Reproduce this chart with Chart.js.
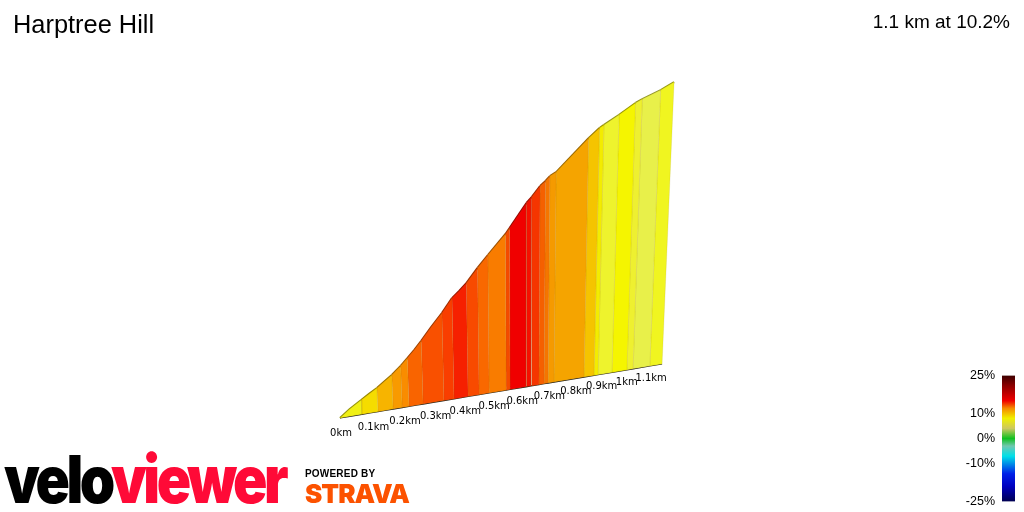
<!DOCTYPE html>
<html>
<head>
<meta charset="utf-8">
<title>Harptree Hill</title>
<script src="https://cdn.jsdelivr.net/npm/chart.js@4"></script>
<style>
  html, body { margin: 0; padding: 0; background: #fff; overflow: hidden; }
  #wrap { position: relative; width: 1024px; height: 512px; font-family: "Liberation Sans", Arial, sans-serif; color: #000; }
  #wrap div, #wrap canvas { position: absolute; }
  #profile { left: 0; top: 0; }
  #scale { left: 950px; top: 361px; }
  .name { left: 13px; top: 9px; font-size: 25.4px; line-height: 30px; }
  .stats { right: 14px; top: 9px; font-size: 19px; line-height: 26px; }
  .logo { left: 4px; top: 439px; font-family: Inter, sans-serif; font-weight: 900; font-size: 66px; line-height: 80px; letter-spacing: -4px; white-space: nowrap; transform: scaleX(0.86); transform-origin: left center; }
  .logo span { color: #ff0a37; }
  .powered { left: 305px; top: 467px; font-size: 10px; line-height: 13px; font-weight: bold; letter-spacing: 0.2px; white-space: nowrap; }
  .strava { left: 305px; top: 478px; font-family: Inter, sans-serif; font-size: 26px; line-height: 32px; font-weight: 900; letter-spacing: -1px; color: #fc5200; white-space: nowrap; }
</style>
</head>
<body>
<div id="wrap">
  <canvas id="profile" width="1024" height="512"></canvas>
  <canvas id="scale" width="74" height="155"></canvas>
  <div class="name">Harptree Hill</div>
  <div class="stats">1.1 km at 10.2%</div>
  <div class="logo">velo<span>viewer</span></div>
  <div class="powered">POWERED BY</div>
  <div class="strava">STRAVA</div>
</div>
<script>
// distance along the climb (km) and height gained (m)
const distances = [0, 0.030, 0.067, 0.092, 0.117, 0.139, 0.165, 0.194, 0.216, 0.239, 0.262, 0.295, 0.331, 0.365, 0.389, 0.413, 0.451, 0.486, 0.546, 0.560, 0.618, 0.636, 0.665, 0.684, 0.699, 0.721, 0.835, 0.874, 0.890, 0.945, 1.005, 1.030, 1.099, 1.150]
const heights = [0, 2.5, 5.0, 6.7, 8.3, 10.1, 12.1, 14.9, 17.3, 19.9, 22.8, 27.3, 31.9, 36.9, 39.2, 41.8, 47.0, 51.4, 58.7, 60.8, 69.8, 71.9, 75.9, 77.7, 79.5, 80.9, 93.5, 97.3, 98.5, 102.3, 106.9, 108.4, 111.9, 115.1]

const distanceTicks = [0, 0.1, 0.2, 0.3, 0.4, 0.5, 0.6, 0.7, 0.8, 0.9, 1, 1.1]
const gradeTicks = [25, 10, 0, -10, -25]

// colour of the stretch that starts at each distance
const bandColours = ['#f0f015', '#f0f015', '#f5dc00', '#f5dc00', '#f7b400', '#f7b400', '#f89a00', '#f98c00', '#f96400', '#f96400', '#f95000', '#f95000', '#f93e00', '#f62000', '#f62000', '#f84a00', '#f96800', '#f97c00', '#f44a00', '#f00000', '#f51000', '#f53500', '#f56000', '#f57500', '#f59a00', '#f5a400', '#f5c400', '#f3ec00', '#eef32d', '#f5f500', '#eef030', '#e8f04a', '#f0f520']

// colour bar stops
const gradeStops = [25, 21, 15, 12, 8, 4, 0, -3, -7, -14, -19, -25]
const gradeColours = ['#3c0000', '#8b0000', '#f00000', '#f58a00', '#f0f000', '#cdc860', '#10c020', '#70c8b0', '#00e0e8', '#0020e8', '#0000c0', '#000050']

// oblique projection of the climb, the far end is smaller
const depth = km => 1 + 0.155 * km
const baseX = km => 340 + 330 * km / depth(km)
const baseY = km => 418 - 0.1677 * (baseX(km) - 340)
const rise = (km, h) => 2.886 * h / depth(km)
const topX = (km, h) => baseX(km) + rise(km, h) * (baseX(km) - 520) * 0.0003
const topY = (km, h) => baseY(km) - rise(km, h)

function darken(hex, k) {
  const n = parseInt(hex.slice(1), 16)
  return `rgb(${Math.round((n >> 16) * k)},${Math.round(((n >> 8) & 255) * k)},${Math.round((n & 255) * k)})`
}

const datasets = []

// one closed shape per run of the same colour
let start = 0
bandColours.forEach((colour, i) => {
  if (bandColours[i + 1] === colour) return
  const top = []
  for (let j = start; j <= i + 1; j++) top.push({ x: topX(distances[j], heights[j]), y: topY(distances[j], heights[j]) })
  datasets.push({
    data: [
      ...top,
      { x: baseX(distances[i + 1]), y: baseY(distances[i + 1]) },
      { x: baseX(distances[start]), y: baseY(distances[start]) },
      top[0],
    ],
    showLine: true,
    fill: 'shape',
    backgroundColor: colour,
    borderColor: 'rgba(140,110,0,0.12)',
    borderWidth: 1,
    pointRadius: 0,
    tension: 0,
  })
  start = i + 1
})

// dark edge along the road
datasets.push({
  data: distances.map((km, i) => ({ x: topX(km, heights[i]), y: topY(km, heights[i]) })),
  showLine: true,
  fill: false,
  borderWidth: 2,
  pointRadius: 0,
  tension: 0,
  segment: { borderColor: ctx => darken(bandColours[ctx.p0DataIndex], 0.62) },
})

// ground line
datasets.push({
  data: distances.map(km => ({ x: baseX(km), y: baseY(km) })),
  showLine: true,
  fill: false,
  borderColor: '#222',
  borderWidth: 1.2,
  pointRadius: 0,
})

const distanceLabels = {
  id: 'distanceLabels',
  afterDatasetsDraw(chart) {
    const { ctx, scales } = chart
    ctx.save()
    ctx.font = '10px "DejaVu Sans"'
    ctx.fillStyle = '#000'
    ctx.textAlign = 'center'
    ctx.textBaseline = 'middle'
    distanceTicks.forEach(km => {
      ctx.fillText(km + 'km', scales.x.getPixelForValue(baseX(km)) + 1, scales.y.getPixelForValue(baseY(km) + 15 - 2.7 * km))
    })
    ctx.restore()
  }
}

new Chart(document.getElementById('profile'), {
  type: 'scatter',
  data: { datasets },
  plugins: [distanceLabels],
  options: {
    responsive: false,
    animation: false,
    devicePixelRatio: 1,
    layout: { padding: 0 },
    plugins: { legend: { display: false }, tooltip: { enabled: false } },
    scales: {
      x: { type: 'linear', min: 0, max: 1024, display: false },
      y: { type: 'linear', min: 0, max: 512, reverse: true, display: false },
    }
  }
})

new Chart(document.getElementById('scale'), {
  type: 'bar',
  data: {
    labels: ['grade'],
    datasets: [{
      data: [[-25, 25]],
      barPercentage: 1,
      categoryPercentage: 1,
      backgroundColor(ctx) {
        const { chartArea, scales } = ctx.chart
        if (!chartArea) return '#000'
        const top = scales.y.getPixelForValue(25), bottom = scales.y.getPixelForValue(-25)
        const g = ctx.chart.ctx.createLinearGradient(0, top, 0, bottom)
        gradeStops.forEach((v, i) => g.addColorStop((scales.y.getPixelForValue(v) - top) / (bottom - top), gradeColours[i]))
        return g
      },
    }]
  },
  options: {
    responsive: false,
    animation: false,
    devicePixelRatio: 1,
    layout: { padding: { top: 6, bottom: 6, right: 9, left: 0 } },
    plugins: { legend: { display: false }, tooltip: { enabled: false } },
    scales: {
      x: { display: false },
      y: {
        min: -25,
        max: 25,
        afterBuildTicks(axis) { axis.ticks = gradeTicks.map(value => ({ value })) },
        afterFit(axis) { axis.width = 52 },
        grid: { display: false, drawTicks: false },
        border: { display: false },
        ticks: {
          padding: 7,
          autoSkip: false,
          color: '#000',
          font: { family: '"Liberation Sans"', size: 12.5 },
          callback: v => v + '%',
        },
      },
    }
  }
})
</script>
</body>
</html>
